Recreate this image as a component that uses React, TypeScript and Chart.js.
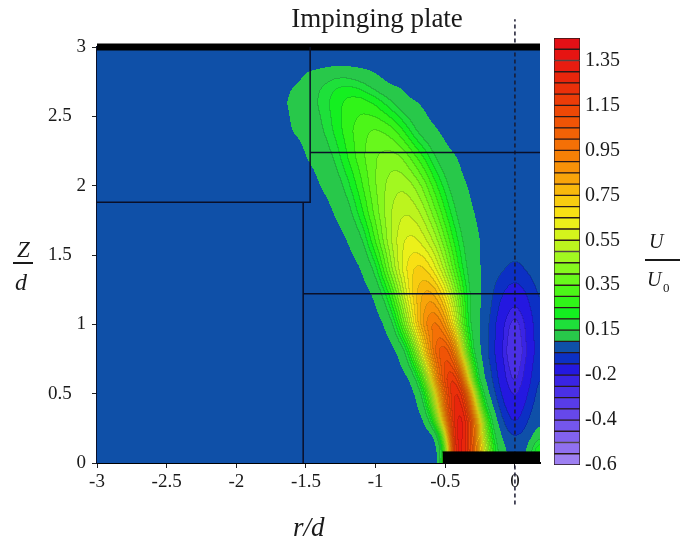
import React, { useEffect, useRef } from "react";
import { Chart, registerables } from "chart.js";
Chart.register(...registerables);

const SERIF = '"Liberation Serif", "Times New Roman", serif';

// ---- axes ----
const X_TICKS = [-3, -2.5, -2, -1.5, -1, -0.5, 0];
const X_TICK_LABELS = ["-3", "-2.5", "-2", "-1.5", "-1", "-0.5", "0"];
const Y_TICKS = [0, 0.5, 1, 1.5, 2, 2.5, 3];
const Y_TICK_LABELS = ["0", "0.5", "1", "1.5", "2", "2.5", "3"];
const R_MIN = -3;
const R_MAX = 0.18;
const Z_MIN = 0;
const Z_MAX = 3;

// ---- contour levels (U/U0) and colour bar ----
const LEVELS = [-0.6, -0.55, -0.5, -0.45, -0.4, -0.35, -0.3, -0.25, -0.2, -0.1, -0.03, 0.05,
  0.15, 0.2, 0.25, 0.3, 0.35, 0.4, 0.45, 0.5, 0.55, 0.6, 0.65, 0.7, 0.75, 0.8, 0.85, 0.9, 0.95,
  1.0, 1.05, 1.1, 1.15, 1.2, 1.25, 1.3, 1.35, 1.4, 1.45];
const SEG_COLORS = ["#9e80f2", "#9070f0", "#8262ee", "#7456ec", "#6648ea", "#583ce8", "#4a30e6",
  "#3a24e4", "#2418e0", "#0c30c4", "#0f50a8", "#28c84a", "#1ee03a", "#14f020", "#30f418",
  "#4cf618", "#68f81c", "#86f81e", "#a2f820", "#bcf41e", "#d4f41c", "#ecf01a", "#f8e014",
  "#f8cc10", "#f8b80c", "#f8a40a", "#f89208", "#f68006", "#f47006", "#f26206", "#f05406",
  "#ee4806", "#ec3c08", "#ea300a", "#e8260c", "#e81c10", "#e61412", "#e41016"];
const CB_SEGMENT_SIZE = [1, 1, 1, 1, 1, 1, 1, 1, 1, 1, 1, 1, 1, 1, 1, 1, 1, 1, 1, 1, 1, 1, 1, 1, 1,
  1, 1, 1, 1, 1, 1, 1, 1, 1, 1, 1, 1, 1];
const CB_TICK_POS = [0, 4, 8, 12, 16, 20, 24, 28, 32, 36];
const CB_LABELS = ["-0.6", "-0.4", "-0.2", "0.15", "0.35", "0.55", "0.75", "0.95", "1.15", "1.35"];

// ---- velocity field U/U0 sampled on (r/d, Z/d) grid ----
const R_GRID = [-3, -1.9, -1.8, -1.7, -1.6, -1.5, -1.4, -1.3, -1.2, -1.1, -1.0, -0.9, -0.85, -0.8,
  -0.75, -0.7, -0.65, -0.6, -0.55, -0.5, -0.45, -0.4, -0.35, -0.3, -0.25, -0.2, -0.15, -0.1, -0.05,
  0, 0.05, 0.1, 0.15, 0.2];
const Z_GRID = [0, 0.1, 0.2, 0.3, 0.4, 0.5, 0.6, 0.8, 1.0, 1.2, 1.4, 1.6, 1.8, 2.0, 2.2, 2.4, 2.6,
  2.7, 2.8, 2.9, 3.0];

const U_Z00 = [0,0,0,0,0,0,0,0,0,0,0,0,0,0,0,0,0,0, 0.02,0.35,1.18,1.37,1.26,1.05,0.77,0.49,0.24,0.09,0.04,0,0,0.1,0.25,0.35];
const U_Z01 = [0,0,0,0,0,0,0,0,0,0,0,0,0,0,0,0,0,0, 0.03,0.28,1.15,1.37,1.26,1.05,0.77,0.49,0.24,0.09,0.04,0,0,0.08,0.22,0.32];
const U_Z02 = [0,0,0,0,0,0,0,0,0,0,0,0,0,0,0,0,0, 0.02,0.10,0.60,1.19,1.38,1.26,1.03,0.71,0.40,0.16,0.05,-0.02,-0.035,-0.02,0,0.08,0.18];
const U_Z03 = [0,0,0,0,0,0,0,0,0,0,0,0,0,0,0,0, 0.05,0.16,0.47,0.86,1.20,1.36,1.29,1.03,0.67,0.32,0.09,0,-0.07,-0.12,-0.07,-0.02,0,0.05];
const U_Z04 = [0,0,0,0,0,0,0,0,0,0,0,0,0,0,0, 0.04,0.11,0.33,0.65,0.99,1.24,1.33,1.20,0.86,0.45,0.14,0.04,-0.05,-0.12,-0.18,-0.12,-0.05,-0.01,0];
const U_Z05 = [0,0,0,0,0,0,0,0,0,0,0,0,0,0, 0.02,0.06,0.20,0.46,0.77,1.05,1.25,1.29,1.09,0.68,0.26,0.06,-0.01,-0.09,-0.17,-0.23,-0.17,-0.09,-0.02,0];
const U_Z06 = [0,0,0,0,0,0,0,0,0,0,0,0,0, 0.01,0.05,0.15,0.37,0.65,0.93,1.14,1.25,1.15,0.82,0.40,0.10,0.03,-0.04,-0.13,-0.22,-0.28,-0.22,-0.13,-0.04,0];
const U_Z08 = [0,0,0,0,0,0,0,0,0,0,0,0, 0.05,0.10,0.25,0.47,0.70,0.91,1.07,1.12,1.02,0.75,0.42,0.15,0.05,-0.02,-0.08,-0.18,-0.27,-0.32,-0.27,-0.18,-0.08,-0.02];
const U_Z10 = [0,0,0,0,0,0,0,0,0,0,0, 0.09,0.20,0.36,0.55,0.74,0.88,0.97,0.97,0.87,0.69,0.47,0.25,0.10,0.05,-0.01,-0.07,-0.16,-0.24,-0.29,-0.24,-0.16,-0.07,-0.01];
const U_Z12 = [0,0,0,0,0,0,0,0,0,0, 0.06,0.23,0.37,0.52,0.67,0.76,0.83,0.84,0.78,0.67,0.52,0.37,0.22,0.11,0.05,0.02,-0.04,-0.09,-0.14,-0.17,-0.14,-0.09,-0.04,0];
const U_Z14 = [0,0,0,0,0,0,0,0,0, 0.05,0.17,0.40,0.52,0.62,0.69,0.72,0.71,0.66,0.58,0.48,0.36,0.25,0.16,0.09,0.05,0.02,0,-0.015,-0.035,-0.045,-0.035,-0.015,0,0];
const U_Z16 = [0,0,0,0,0,0,0,0, 0.05,0.13,0.30,0.48,0.55,0.60,0.62,0.61,0.57,0.52,0.45,0.36,0.27,0.19,0.12,0.08,0.05,0.02, 0,0,0,0,0,0,0,0];
const U_Z18 = [0,0,0,0,0,0,0, 0.05,0.11,0.23,0.37,0.49,0.53,0.55,0.545,0.52,0.475,0.41,0.34,0.26,0.19,0.125,0.08,0.055,0.03, 0,0,0,0,0,0,0,0,0];
const U_Z20 = [0,0,0,0,0,0, 0.05,0.09,0.18,0.29,0.40,0.47,0.49,0.49,0.47,0.43,0.38,0.31,0.24,0.18,0.12,0.08,0.054,0.03, 0,0,0,0,0,0,0,0,0,0];
const U_Z22 = [0,0,0,0,0, 0.05,0.08,0.15,0.25,0.335,0.40,0.43,0.42,0.40,0.35,0.30,0.25,0.19,0.13,0.09,0.06,0.05, 0,0,0,0,0,0,0,0,0,0,0,0];
const U_Z24 = [0,0,0,0, 0.055,0.07,0.13,0.205,0.28,0.335,0.36,0.33,0.295,0.25,0.195,0.14,0.10,0.067,0.05,0.02, 0,0,0,0,0,0,0,0,0,0,0,0,0,0];
const U_Z26 = [0,0,0, 0.035,0.06,0.10,0.16,0.22,0.27,0.28,0.24,0.17,0.13,0.09,0.07,0.052,0.03, 0,0,0,0,0,0,0,0,0,0,0,0,0,0,0,0,0];
const U_Z27 = [0,0,0, 0.02,0.053,0.09,0.15,0.20,0.22,0.195,0.135,0.075,0.056,0.05, 0,0,0,0,0,0,0,0,0,0,0,0,0,0,0,0,0,0,0,0];
const U_Z28 = [0,0,0,0,0, 0.06,0.09,0.13,0.13,0.095,0.056, 0,0,0,0,0,0,0,0,0,0,0,0,0,0,0,0,0,0,0,0,0,0,0];
const U_Z29 = [0,0,0,0,0,0,0,0,0,0,0,0,0,0,0,0,0,0,0,0,0,0,0,0,0,0,0,0,0,0,0,0,0,0];
const U_Z30 = [0,0,0,0,0,0,0,0,0,0,0,0,0,0,0,0,0,0,0,0,0,0,0,0,0,0,0,0,0,0,0,0,0,0];
const U_FIELD = [U_Z00, U_Z01, U_Z02, U_Z03, U_Z04, U_Z05, U_Z06, U_Z08, U_Z10, U_Z12, U_Z14,
  U_Z16, U_Z18, U_Z20, U_Z22, U_Z24, U_Z26, U_Z27, U_Z28, U_Z29, U_Z30];

// ---- geometry lines (r/d, Z/d) ----
const PLATE_TOP = [{ x: -3, y: 3 }, { x: 0.18, y: 3 }];
const NOZZLE_WALL = [{ x: -0.52, y: 0.08 }, { x: 0.18, y: 0.08 }];
const JET_AXIS = [{ x: 0, y: -0.3 }, { x: 0, y: 3.2 }];
const BLOCK_A = [{ x: -3, y: 1.88 }, { x: -1.47, y: 1.88 }, { x: -1.47, y: 3 }];
const BLOCK_B = [{ x: -1.52, y: 0 }, { x: -1.52, y: 1.88 }];
const BLOCK_C = [{ x: -1.47, y: 2.24 }, { x: 0.18, y: 2.24 }];
const BLOCK_D = [{ x: -1.52, y: 1.22 }, { x: 0.18, y: 1.22 }];

function hexToRgb(h: string) {
  return [parseInt(h.slice(1, 3), 16), parseInt(h.slice(3, 5), 16), parseInt(h.slice(5, 7), 16)];
}

function locate(arr: number[], v: number) {
  let k = 0;
  while (k < arr.length - 2 && v > arr[k + 1]) k++;
  const t = Math.max(0, Math.min(1, (v - arr[k]) / (arr[k + 1] - arr[k])));
  return [k, t];
}

// separable box smoothing of the rendered raster (removes bilinear cell kinks)
function smooth(src: Float32Array, w: number, h: number, r: number) {
  const tmp = new Float32Array(w * h);
  const n = 2 * r + 1;
  for (let j = 0; j < h; j++) {
    const row = j * w;
    for (let i = 0; i < w; i++) {
      let s = 0;
      for (let k = -r; k <= r; k++) {
        const ii = i + k < 0 ? 0 : i + k >= w ? w - 1 : i + k;
        s += src[row + ii];
      }
      tmp[row + i] = s / n;
    }
  }
  for (let i = 0; i < w; i++) {
    for (let j = 0; j < h; j++) {
      let s = 0;
      for (let k = -r; k <= r; k++) {
        const jj = j + k < 0 ? 0 : j + k >= h ? h - 1 : j + k;
        s += tmp[jj * w + i];
      }
      src[j * w + i] = s / n;
    }
  }
}

const fieldPlugin = {
  id: "fieldPlugin",
  beforeDatasetsDraw(chart: any) {
    const { ctx, chartArea: a, scales } = chart;
    const xs = scales.x;
    const ys = scales.y;
    const x0 = Math.round(a.left);
    const y0 = Math.round(a.top);
    const w = Math.round(a.right) - x0;
    const h = Math.round(a.bottom) - y0;
    const colK = new Int32Array(w);
    const colT = new Float32Array(w);
    for (let i = 0; i < w; i++) {
      const [k, t] = locate(R_GRID, xs.getValueForPixel(x0 + i + 0.5));
      colK[i] = k;
      colT[i] = t;
    }
    const rowK = new Int32Array(h);
    const rowT = new Float32Array(h);
    for (let j = 0; j < h; j++) {
      const [k, t] = locate(Z_GRID, ys.getValueForPixel(y0 + j + 0.5));
      rowK[j] = k;
      rowT[j] = t;
    }
    const vals = new Float32Array(w * h);
    for (let j = 0; j < h; j++) {
      const r0 = U_FIELD[rowK[j]];
      const r1 = U_FIELD[rowK[j] + 1];
      const tr = rowT[j];
      for (let i = 0; i < w; i++) {
        const c = colK[i];
        const tc = colT[i];
        const a0 = r0[c] * (1 - tc) + r0[c + 1] * tc;
        const a1 = r1[c] * (1 - tc) + r1[c + 1] * tc;
        vals[j * w + i] = a0 * (1 - tr) + a1 * tr;
      }
    }
    smooth(vals, w, h, 4);
    smooth(vals, w, h, 4);
    const bands = new Int16Array(w * h);
    const nSeg = SEG_COLORS.length;
    for (let p = 0; p < w * h; p++) {
      const v = vals[p];
      let b = 0;
      while (b < nSeg - 1 && v >= LEVELS[b + 1]) b++;
      bands[p] = b;
    }
    const rgb = SEG_COLORS.map(hexToRgb);
    const off = document.createElement("canvas");
    off.width = w;
    off.height = h;
    const octx = off.getContext("2d")!;
    const img = octx.createImageData(w, h);
    const d = img.data;
    const isEdge = (b1: number, b2: number) =>
      b1 !== b2 && !(Math.min(b1, b2) <= 10 && Math.max(b1, b2) >= 11);
    for (let j = 0; j < h; j++) {
      for (let i = 0; i < w; i++) {
        const b = bands[j * w + i];
        let edge = false;
        if (i < w - 1 && isEdge(b, bands[j * w + i + 1])) edge = true;
        if (j < h - 1 && isEdge(b, bands[(j + 1) * w + i])) edge = true;
        const col = rgb[b];
        const f = edge ? 0.86 : 1;
        const p = (j * w + i) * 4;
        d[p] = col[0] * f;
        d[p + 1] = col[1] * f;
        d[p + 2] = col[2] * f;
        d[p + 3] = 255;
      }
    }
    octx.putImageData(img, 0, 0);
    ctx.save();
    ctx.drawImage(off, x0, y0);
    ctx.restore();
  },
};

const lineDs = (data: any[], extra: any = {}) => ({
  data,
  showLine: true,
  pointRadius: 0,
  borderColor: "#0a0f28",
  borderWidth: 1.5,
  fill: false,
  clip: false,
  ...extra,
});

export default function App() {
  const mainRef = useRef<HTMLCanvasElement>(null);
  const cbRef = useRef<HTMLCanvasElement>(null);

  useEffect(() => {
    const main = new Chart(mainRef.current!, {
      type: "scatter",
      data: {
        datasets: [
          lineDs(BLOCK_A),
          lineDs(BLOCK_B),
          lineDs(BLOCK_C),
          lineDs(BLOCK_D),
          lineDs(NOZZLE_WALL, { fill: "origin", backgroundColor: "#000", borderColor: "#000", borderWidth: 1 }),
          lineDs(PLATE_TOP, { borderColor: "#000", borderWidth: 7 }),
          lineDs(JET_AXIS, { borderColor: "#1a1a30", borderWidth: 1.5, borderDash: [4, 3] }),
        ],
      },
      options: {
        animation: false,
        responsive: false,
        events: [],
        layout: { padding: { left: 0, top: 47, right: 140, bottom: 0 } },
        plugins: { legend: { display: false }, tooltip: { enabled: false }, title: { display: false } },
        scales: {
          x: {
            type: "linear",
            min: R_MIN,
            max: R_MAX,
            z: 1,
            afterFit: (s: any) => { s.height = 80; },
            afterBuildTicks: (s: any) => { s.ticks = X_TICKS.map((v) => ({ value: v })); },
            ticks: {
              callback: (_v: any, i: number) => X_TICK_LABELS[i],
              font: { family: SERIF, size: 19 },
              color: "#1a1a1a",
              padding: 3,
              maxRotation: 0,
              autoSkip: false,
            },
            grid: { display: true, drawOnChartArea: false, tickLength: 5, color: "#222" },
            border: { display: true, color: "#000", width: 2 },
          },
          y: {
            type: "linear",
            min: Z_MIN,
            max: Z_MAX,
            z: 1,
            afterFit: (s: any) => { s.width = 97; },
            afterBuildTicks: (s: any) => { s.ticks = Y_TICKS.map((v) => ({ value: v })); },
            ticks: {
              callback: (_v: any, i: number) => {
                const t = Y_TICK_LABELS[i];
                return t.indexOf(".") >= 0 ? t + "   " : t;
              },
              font: { family: SERIF, size: 19 },
              color: "#1a1a1a",
              padding: 6,
              autoSkip: false,
            },
            grid: { display: true, drawOnChartArea: false, tickLength: 5, color: "#222" },
            border: { display: true, color: "#0a0f28", width: 1.5 },
          },
        },
      },
      plugins: [fieldPlugin],
    } as any);

    const cb = new Chart(cbRef.current!, {
      type: "bar",
      data: {
        labels: ["U/U0"],
        datasets: SEG_COLORS.map((c, i) => ({
          data: [CB_SEGMENT_SIZE[i]],
          backgroundColor: c,
          borderColor: "#2a1a1a",
          borderWidth: 1,
          borderSkipped: false,
          barPercentage: 1,
          categoryPercentage: 1,
          stack: "bar",
        })),
      },
      options: {
        animation: false,
        responsive: false,
        events: [],
        layout: { padding: { left: 14, top: 38, right: 0, bottom: 78 } },
        plugins: { legend: { display: false }, tooltip: { enabled: false } },
        scales: {
          x: { display: false, stacked: true },
          y: {
            stacked: true,
            position: "right",
            min: 0,
            max: CB_SEGMENT_SIZE.length,
            afterFit: (s: any) => { s.width = 60; },
            afterBuildTicks: (s: any) => { s.ticks = CB_TICK_POS.map((v) => ({ value: v })); },
            ticks: {
              callback: (_v: any, i: number) => CB_LABELS[i],
              font: { family: SERIF, size: 20 },
              color: "#1a1a1a",
              padding: 5,
              autoSkip: false,
            },
            grid: { display: false, drawTicks: false },
            border: { display: false },
          },
        },
      },
    } as any);

    return () => {
      main.destroy();
      cb.destroy();
    };
  }, []);

  const txt: React.CSSProperties = {
    position: "absolute",
    fontFamily: SERIF,
    color: "#1a1a1a",
    lineHeight: 1,
    whiteSpace: "nowrap",
    margin: 0,
  };

  return (
    <div style={{ position: "absolute", left: 0, top: 0, width: 680, height: 543, background: "#fff", overflow: "hidden" }}>
      <canvas ref={mainRef} width={680} height={543} style={{ position: "absolute", left: 0, top: 0, width: 680, height: 543 }} />
      <canvas ref={cbRef} width={100} height={543} style={{ position: "absolute", left: 540, top: 0, width: 100, height: 543 }} />
      <div style={{ ...txt, left: 227, top: 5, width: 300, textAlign: "center", fontSize: 27 }}>Impinging plate</div>
      <div style={{ ...txt, left: 17, top: 238, fontSize: 23, fontStyle: "italic" }}>Z</div>
      <div style={{ position: "absolute", left: 13, top: 262, width: 20, height: 1.5, background: "#1a1a1a" }} />
      <div style={{ ...txt, left: 15, top: 270, fontSize: 24, fontStyle: "italic" }}>d</div>
      <div style={{ ...txt, left: 649, top: 231, fontSize: 20, fontStyle: "italic" }}>U</div>
      <div style={{ position: "absolute", left: 645, top: 259, width: 35, height: 1.5, background: "#1a1a1a" }} />
      <div style={{ ...txt, left: 647, top: 269, fontSize: 20, fontStyle: "italic" }}>U</div>
      <div style={{ ...txt, left: 663, top: 281, fontSize: 13 }}>0</div>
      <div style={{ ...txt, left: 293, top: 514, fontSize: 27, fontStyle: "italic" }}>r/d</div>
    </div>
  );
}
